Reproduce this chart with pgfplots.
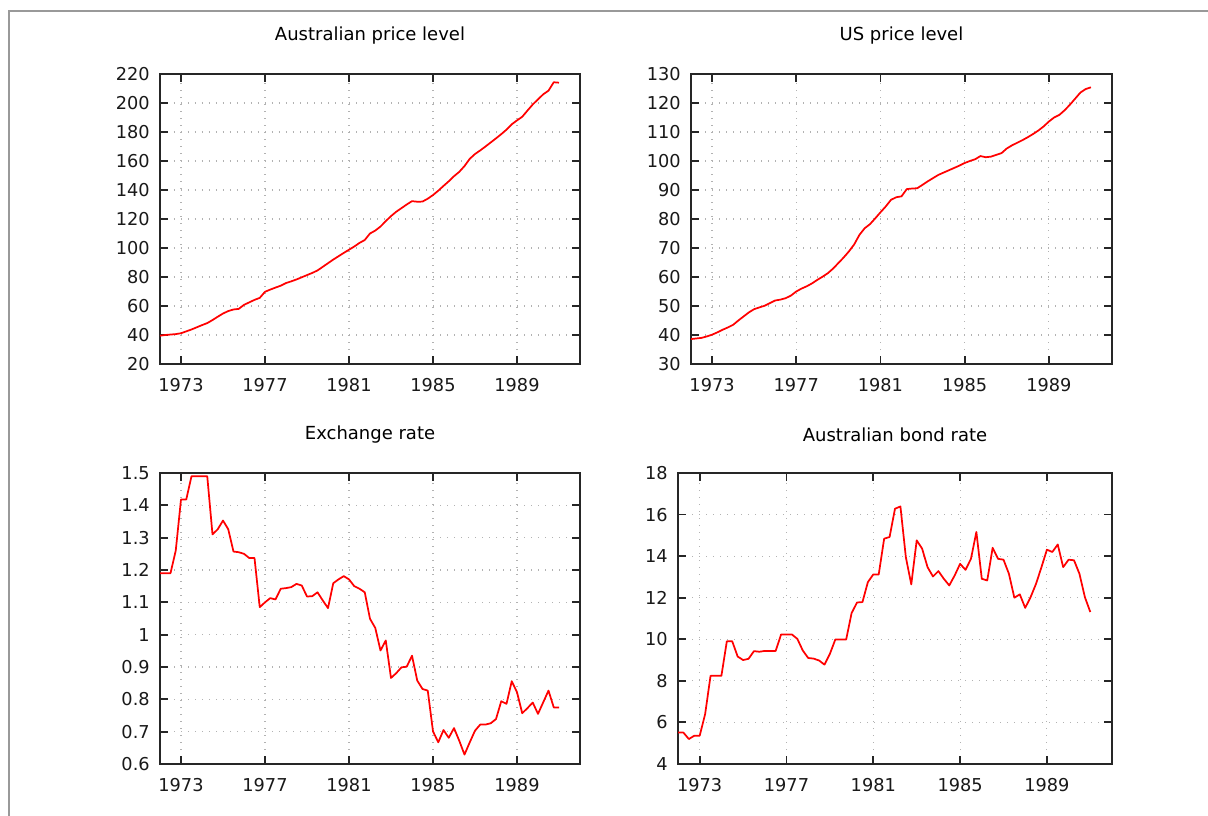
\documentclass[border=0pt]{standalone}
\usepackage{fontspec}
\setmainfont{DejaVu Sans}
\usepackage{pgfplots}
\pgfplotsset{compat=1.18}

\pgfplotsset{
  gp/.style={
    scale only axis,
    xmin=1972, xmax=1992,
    xtick={1973,1977,1981,1985,1989},
    x tick label style={/pgf/number format/1000 sep={}},
    /pgf/number format/assume math mode=true,
    tick label style={font=\fontsize{13.3}{15}\selectfont, text=black!90},
    xticklabel style={yshift=-7pt},
    yticklabel style={xshift=-4.2pt},
    tick align=inside,
    major tick length=6pt,
    axis line style={black!85, line width=1.4pt},
    tick style={black!85, line width=1.4pt},
    grid=major,
    major grid style={gray!60, line width=0.85pt, dash pattern=on 0.85pt off 4.4pt},
    title style={font=\fontsize{13.5}{16}\selectfont, anchor=center, at={(0.5,1)}, yshift=22.5pt},
  },
  ser/.style={red!100!white, line width=1.3pt, line join=round, no markers}
}

\begin{document}
\begin{tikzpicture}
\useasboundingbox (0,0) rectangle (906pt,612pt);
\fill[white] (0,0) rectangle (906pt,612pt);
\draw[gray!80, line width=1.2pt] (6.75pt,0) -- (6.75pt,603.75pt) -- (906pt,603.75pt);

% Australian price level
\begin{axis}[gp, at={(120pt,339pt)}, anchor=south west, width=315pt, height=217.5pt,
  ymin=20, ymax=220, ytick={20,40,...,220}, title={Australian price level}]
\addplot[ser] table {
x y
1972.00 39.5
1972.25 40.0
1972.50 40.3
1972.75 40.6
1973.00 41.2
1973.25 42.5
1973.50 43.8
1973.75 45.3
1974.00 46.8
1974.25 48.2
1974.50 50.3
1974.75 52.6
1975.00 54.8
1975.25 56.5
1975.50 57.6
1975.75 58.0
1976.00 60.8
1976.25 62.5
1976.50 64.2
1976.75 65.6
1977.00 69.8
1977.25 71.3
1977.50 72.7
1977.75 74.0
1978.00 75.8
1978.25 77.0
1978.50 78.3
1978.75 79.8
1979.00 81.3
1979.25 82.8
1979.50 84.5
1979.75 87.0
1980.00 89.5
1980.25 92.0
1980.50 94.3
1980.75 96.6
1981.00 98.8
1981.25 101.0
1981.50 103.5
1981.75 105.5
1982.00 110.0
1982.25 112.0
1982.50 114.8
1982.75 118.5
1983.00 122.0
1983.25 125.0
1983.50 127.5
1983.75 130.0
1984.00 132.3
1984.25 131.9
1984.50 132.0
1984.75 134.0
1985.00 136.5
1985.25 139.5
1985.50 142.8
1985.75 146.0
1986.00 149.5
1986.25 152.5
1986.50 156.5
1986.75 161.5
1987.00 164.8
1987.25 167.3
1987.50 170.0
1987.75 172.8
1988.00 175.6
1988.25 178.5
1988.50 181.6
1988.75 185.3
1989.00 188.0
1989.25 190.5
1989.50 194.8
1989.75 199.0
1990.00 202.5
1990.25 206.0
1990.50 208.5
1990.75 214.3
1991.00 214.0
};
\end{axis}

% US price level
\begin{axis}[gp, at={(518.25pt,339pt)}, anchor=south west, width=315.75pt, height=217.5pt,
  ymin=30, ymax=130, ytick={30,40,...,130}, title={US price level}]
\addplot[ser] table {
x y
1972.00 38.6
1972.25 38.8
1972.50 39.0
1972.75 39.5
1973.00 40.1
1973.25 40.9
1973.50 41.8
1973.75 42.6
1974.00 43.5
1974.25 45.0
1974.50 46.4
1974.75 47.8
1975.00 48.9
1975.25 49.5
1975.50 50.1
1975.75 51.0
1976.00 51.9
1976.25 52.2
1976.50 52.7
1976.75 53.6
1977.00 55.0
1977.25 56.0
1977.50 56.8
1977.75 57.8
1978.00 59.0
1978.25 60.1
1978.50 61.3
1978.75 62.9
1979.00 64.8
1979.25 66.7
1979.50 68.8
1979.75 71.2
1980.00 74.5
1980.25 76.8
1980.50 78.2
1980.75 80.2
1981.00 82.3
1981.25 84.3
1981.50 86.6
1981.75 87.5
1982.00 87.8
1982.25 90.3
1982.50 90.5
1982.75 90.6
1983.00 91.8
1983.25 93.0
1983.50 94.1
1983.75 95.2
1984.00 96.0
1984.25 96.8
1984.50 97.6
1984.75 98.4
1985.00 99.3
1985.25 100.0
1985.50 100.6
1985.75 101.7
1986.00 101.3
1986.25 101.5
1986.50 102.1
1986.75 102.7
1987.00 104.3
1987.25 105.4
1987.50 106.3
1987.75 107.2
1988.00 108.2
1988.25 109.3
1988.50 110.5
1988.75 111.9
1989.00 113.6
1989.25 115.0
1989.50 115.9
1989.75 117.5
1990.00 119.4
1990.25 121.5
1990.50 123.6
1990.75 124.8
1991.00 125.4
};
\end{axis}

% Exchange rate
\begin{axis}[gp, at={(120pt,39pt)}, anchor=south west, width=315pt, height=218.25pt,
  ymin=0.6, ymax=1.5, ytick={0.6,0.7,0.8,0.9,1,1.1,1.2,1.3,1.4,1.5}, title={Exchange rate}]
\addplot[ser] table {
x y
1972.00 1.19
1972.25 1.19
1972.50 1.19
1972.75 1.26
1973.00 1.418
1973.25 1.418
1973.50 1.49
1973.75 1.49
1974.00 1.49
1974.25 1.49
1974.50 1.31
1974.75 1.326
1975.00 1.353
1975.25 1.326
1975.50 1.257
1975.75 1.255
1976.00 1.25
1976.25 1.237
1976.50 1.237
1976.75 1.085
1977.00 1.10
1977.25 1.113
1977.50 1.109
1977.75 1.142
1978.00 1.144
1978.25 1.147
1978.50 1.157
1978.75 1.152
1979.00 1.118
1979.25 1.119
1979.50 1.131
1979.75 1.106
1980.00 1.082
1980.25 1.159
1980.50 1.171
1980.75 1.181
1981.00 1.171
1981.25 1.15
1981.50 1.142
1981.75 1.131
1982.00 1.049
1982.25 1.021
1982.50 0.951
1982.75 0.982
1983.00 0.866
1983.25 0.881
1983.50 0.899
1983.75 0.901
1984.00 0.935
1984.25 0.858
1984.50 0.832
1984.75 0.827
1985.00 0.701
1985.25 0.667
1985.50 0.705
1985.75 0.681
1986.00 0.711
1986.25 0.672
1986.50 0.629
1986.75 0.667
1987.00 0.703
1987.25 0.722
1987.50 0.722
1987.75 0.726
1988.00 0.739
1988.25 0.794
1988.50 0.786
1988.75 0.856
1989.00 0.822
1989.25 0.757
1989.50 0.773
1989.75 0.790
1990.00 0.755
1990.25 0.791
1990.50 0.827
1990.75 0.775
1991.00 0.775
};
\end{axis}

% Australian bond rate
\begin{axis}[gp, at={(508.5pt,39pt)}, anchor=south west, width=325.5pt, height=218.25pt,
  ymin=4, ymax=18, ytick={4,6,...,18}, title={Australian bond rate}]
\addplot[ser] table {
x y
1972.00 5.51
1972.25 5.51
1972.50 5.20
1972.75 5.36
1973.00 5.36
1973.25 6.40
1973.50 8.24
1973.75 8.24
1974.00 8.24
1974.25 9.90
1974.50 9.90
1974.75 9.17
1975.00 9.00
1975.25 9.06
1975.50 9.43
1975.75 9.40
1976.00 9.44
1976.25 9.44
1976.50 9.44
1976.75 10.23
1977.00 10.23
1977.25 10.23
1977.50 10.02
1977.75 9.46
1978.00 9.10
1978.25 9.07
1978.50 8.98
1978.75 8.78
1979.00 9.30
1979.25 9.99
1979.50 9.99
1979.75 9.99
1980.00 11.26
1980.25 11.77
1980.50 11.79
1980.75 12.75
1981.00 13.12
1981.25 13.12
1981.50 14.84
1981.75 14.92
1982.00 16.28
1982.25 16.39
1982.50 13.95
1982.75 12.64
1983.00 14.76
1983.25 14.36
1983.50 13.47
1983.75 13.02
1984.00 13.28
1984.25 12.91
1984.50 12.59
1984.75 13.07
1985.00 13.63
1985.25 13.34
1985.50 13.87
1985.75 15.16
1986.00 12.91
1986.25 12.83
1986.50 14.40
1986.75 13.87
1987.00 13.83
1987.25 13.15
1987.50 12.00
1987.75 12.16
1988.00 11.51
1988.25 12.03
1988.50 12.67
1988.75 13.47
1989.00 14.31
1989.25 14.20
1989.50 14.56
1989.75 13.47
1990.00 13.83
1990.25 13.80
1990.50 13.15
1990.75 12.03
1991.00 11.31
};
\end{axis}
\end{tikzpicture}
\end{document}
